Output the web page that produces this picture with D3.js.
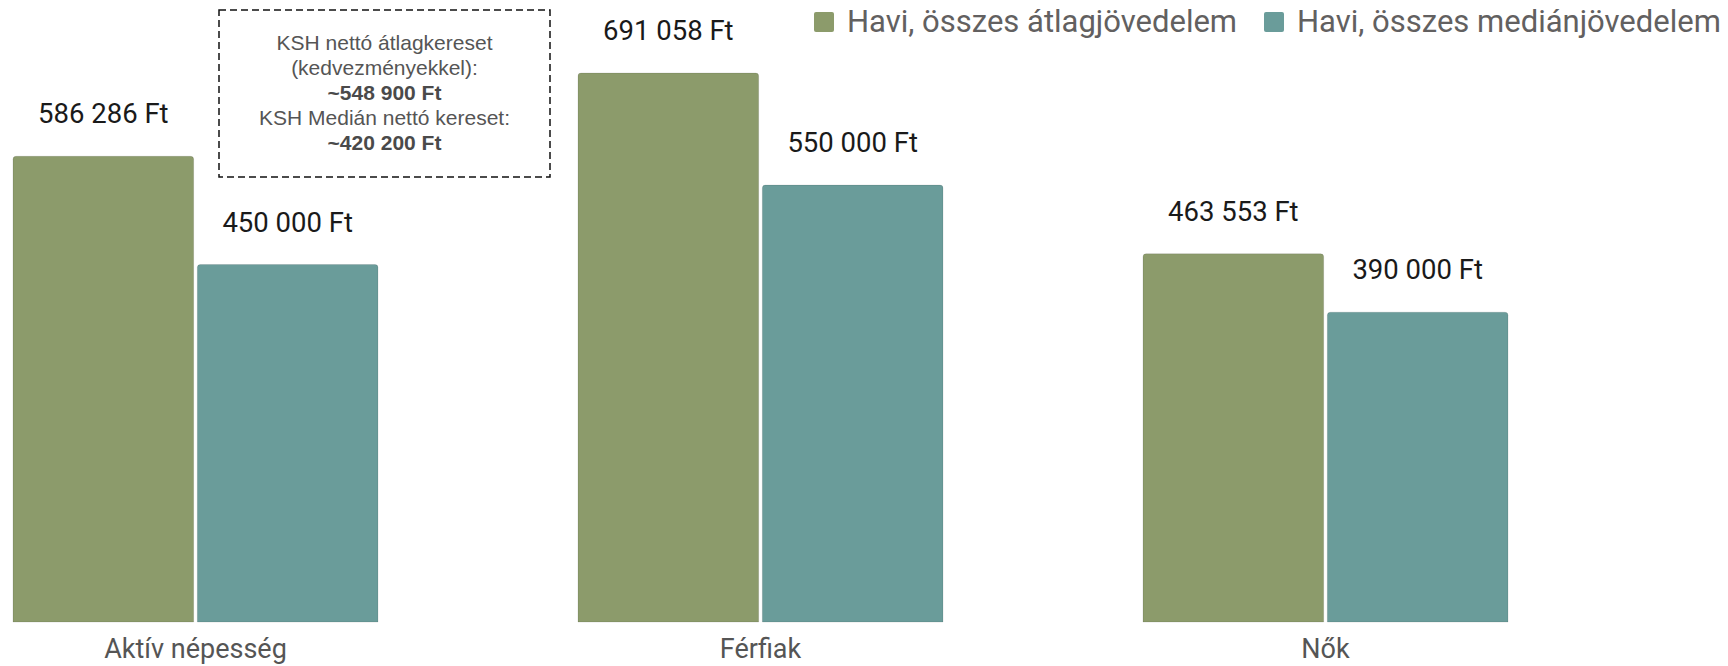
<!DOCTYPE html>
<html>
<head>
<meta charset="utf-8">
<script src="https://cdn.jsdelivr.net/npm/d3@7"></script>
<style>
	body { margin: 0; background: #fff; }
	.value-label { font-family: Roboto, sans-serif; font-size: 27.5px; fill: #1a1a1a; }
	.category-label { font-family: Roboto, sans-serif; font-size: 27px; fill: #555; }
	.legend-label { font-family: Roboto, sans-serif; font-size: 31px; fill: #626060; }
	.note { font-family: 'Liberation Sans', Arial, sans-serif; font-size: 21px; fill: #555; }
	.note-bold { font-weight: bold; fill: #4a4a4a; }
</style>
</head>
<body>
<script>
/* Data. */
let categories = ['Aktív népesség', 'Férfiak', 'Nők'];
let seriesNames = ['Havi, összes átlagjövedelem', 'Havi, összes mediánjövedelem'];
let averageIncome = [586286, 691058, 463553];
let medianIncome = [450000, 550000, 390000];
let noteLines = [
	{ text: 'KSH nettó átlagkereset', bold: false },
	{ text: '(kedvezményekkel):', bold: false },
	{ text: '~548 900 Ft', bold: true },
	{ text: 'KSH Medián nettó kereset:', bold: false },
	{ text: '~420 200 Ft', bold: true }
];
let colors = ['#8c9b6b', '#6a9c9a'];

/**
 * Formats a number as forint with space as thousands separator.
 */
function formatFt(value) {
	return d3.format(',')(value).replace(/,/g, ' ') + ' Ft';
}

/**
 * Path of a bar with rounded top corners.
 */
function topRoundedRect(x, y, w, h, r) {
	return 'M' + x + ',' + (y + h) +
		'V' + (y + r) +
		'Q' + x + ',' + y + ' ' + (x + r) + ',' + y +
		'H' + (x + w - r) +
		'Q' + (x + w) + ',' + y + ' ' + (x + w) + ',' + (y + r) +
		'V' + (y + h) + 'Z';
}

/**
 * Creates the grouped bar chart.
 */
function createChart() {
	const width = 1728;
	const height = 666;
	const baseline = 622;

	let svg = d3.select('body').append('svg')
		.attr('width', width)
		.attr('height', height);

	let rows = categories.map(function(category, index) {
		return { category: category, values: [averageIncome[index], medianIncome[index]] };
	});

	/* Scales. */
	let x0 = d3.scaleBand()
		.domain(categories)
		.range([13, 1508])
		.paddingInner(0.354)
		.paddingOuter(0);
	let x1 = d3.scaleBand()
		.domain(d3.range(seriesNames.length))
		.range([0, x0.bandwidth()])
		.paddingInner(0.02);
	let y = d3.scaleLinear()
		.domain([0, 783000])
		.range([baseline, 0]);

	/* Bars. */
	let groups = svg.selectAll('.group')
			.data(rows)
		.enter().append('g')
			.attr('class', 'group')
			.attr('transform', function(d) { return 'translate(' + x0(d.category) + ',0)'; });

	groups.selectAll('path')
			.data(function(d) { return d.values; })
		.enter().append('path')
			.attr('d', function(value, index) {
				return topRoundedRect(x1(index), y(value), x1.bandwidth(), baseline - y(value), 3);
			})
			.attr('fill', function(_, index) { return colors[index]; })
			.attr('stroke', 'rgba(0,0,0,0.10)')
			.attr('stroke-width', 1);

	groups.selectAll('.value-label')
			.data(function(d) { return d.values; })
		.enter().append('text')
			.attr('class', 'value-label')
			.attr('x', function(_, index) { return x1(index) + x1.bandwidth() / 2; })
			.attr('y', function(value) { return y(value) - 33; })
			.attr('text-anchor', 'middle')
			.text(formatFt);

	/* Category axis labels. */
	svg.selectAll('.category-label')
			.data(categories)
		.enter().append('text')
			.attr('class', 'category-label')
			.attr('x', function(category) { return x0(category) + x0.bandwidth() / 2; })
			.attr('y', 658)
			.attr('text-anchor', 'middle')
			.text(function(category) { return category; });

	/* Legend. */
	let legendX = [814, 1264];
	let legend = svg.selectAll('.legend')
			.data(seriesNames)
		.enter().append('g')
			.attr('class', 'legend')
			.attr('transform', function(_, index) { return 'translate(' + legendX[index] + ',12)'; });
	legend.append('rect')
		.attr('width', 20)
		.attr('height', 20)
		.attr('rx', 2)
		.attr('fill', function(_, index) { return colors[index]; });
	legend.append('text')
		.attr('class', 'legend-label')
		.attr('x', 33)
		.attr('y', 20)
		.text(function(name) { return name; });

	/* KSH note box. */
	let note = svg.append('g').attr('transform', 'translate(219,10)');
	note.append('rect')
		.attr('width', 331)
		.attr('height', 167)
		.attr('fill', 'none')
		.attr('stroke', '#111')
		.attr('stroke-width', 1.5)
		.attr('stroke-dasharray', '7,4');
	note.selectAll('.note')
			.data(noteLines)
		.enter().append('text')
			.attr('class', function(d) { return d.bold ? 'note note-bold' : 'note'; })
			.attr('x', 165.5)
			.attr('y', function(_, index) { return 40 + index * 25; })
			.attr('text-anchor', 'middle')
			.text(function(d) { return d.text; });
}

window.onload = function() {
	createChart();
};
</script>
</body>
</html>
